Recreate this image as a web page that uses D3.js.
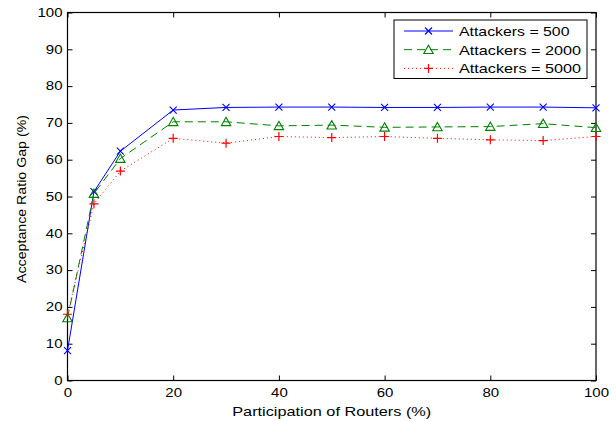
<!DOCTYPE html>
<html><head><meta charset="utf-8">
<script src="https://cdn.jsdelivr.net/npm/d3@7"></script>
<style>body{margin:0;background:#fff}svg{display:block}text{font-family:"Liberation Sans",Arial,sans-serif}</style>
</head><body><svg id="c" width="616" height="421"></svg>
<script>
const xValues = [0, 5, 10, 20, 30, 40, 50, 60, 70, 80, 90, 100];
const attackers500 = [8.1, 51.3, 62.3, 73.5, 74.2, 74.3, 74.3, 74.2, 74.2, 74.3, 74.3, 74.1];
const attackers2000 = [17.0, 50.8, 60.3, 70.3, 70.3, 69.2, 69.4, 68.8, 68.9, 69.0, 69.8, 68.7];
const attackers5000 = [18.0, 48.0, 56.9, 65.8, 64.5, 66.3, 66.0, 66.3, 65.8, 65.4, 65.2, 66.3];
const xTicks = [0, 20, 40, 60, 80, 100];
const yTicks = [0, 10, 20, 30, 40, 50, 60, 70, 80, 90, 100];
const seriesNames = ["Attackers = 500", "Attackers = 2000", "Attackers = 5000"];

const svg = d3.select("#c");
const L = 67.5, R = 596, T = 12.5, B = 380.5;
const x = d3.scaleLinear().domain([0, 100]).range([L, R]);
const y = d3.scaleLinear().domain([0, 100]).range([B, T]);

function stretch(sel, factor) {
  sel.each(function () {
    const w = this.getComputedTextLength();
    d3.select(this).attr("textLength", w * factor).attr("lengthAdjust", "spacingAndGlyphs");
  });
}

const series = [
  {name: seriesNames[0], values: attackers500, color: "#0000ff", dash: null, marker: "x"},
  {name: seriesNames[1], values: attackers2000, color: "#008000", dash: "8,5", marker: "tri"},
  {name: seriesNames[2], values: attackers5000, color: "#ff0000", dash: "1,3", marker: "plus"}
];

// axes (ticks inward, mirrored)
const tl = 5;
const gx = svg.append("g").attr("transform", `translate(0,${B})`)
  .call(d3.axisBottom(x).tickValues(xTicks).tickSizeInner(-tl).tickSizeOuter(0).tickPadding(8))
  .call(g => g.select(".domain").remove());
svg.append("g").attr("transform", `translate(0,${T})`)
  .call(d3.axisTop(x).tickValues(xTicks).tickSizeInner(-tl).tickSizeOuter(0).tickFormat(""))
  .call(g => g.select(".domain").remove());
const gy = svg.append("g").attr("transform", `translate(${L},0)`)
  .call(d3.axisLeft(y).tickValues(yTicks).tickSizeInner(-tl).tickSizeOuter(0).tickPadding(5))
  .call(g => g.select(".domain").remove());
svg.append("g").attr("transform", `translate(${R},0)`)
  .call(d3.axisRight(y).tickValues(yTicks).tickSizeInner(-tl).tickSizeOuter(0).tickFormat(""))
  .call(g => g.select(".domain").remove());
svg.selectAll(".tick text").attr("font-size", 12).attr("fill", "#000")
  .attr("font-family", "Liberation Sans, Arial, sans-serif");
svg.selectAll(".tick line").attr("stroke", "#000");
stretch(svg.selectAll(".tick text"), 1.25);

svg.append("rect").attr("x", L).attr("y", T).attr("width", R - L).attr("height", B - T)
  .attr("fill", "none").attr("stroke", "#000").attr("stroke-width", 1.2);

function drawMarker(g, type, cx, cy, color) {
  if (type === "x") {
    const s = 3.5;
    g.append("path").attr("d", `M${cx-s},${cy-s}L${cx+s},${cy+s}M${cx-s},${cy+s}L${cx+s},${cy-s}`)
      .attr("stroke", color).attr("stroke-width", 1.1).attr("fill", "none");
  } else if (type === "tri") {
    const s = 4.5;
    g.append("path").attr("d", `M${cx},${cy-s}L${cx+s*1.05},${cy+s*0.85}L${cx-s*1.05},${cy+s*0.85}Z`)
      .attr("stroke", color).attr("stroke-width", 1.1).attr("fill", "none");
  } else {
    const s = 4.5;
    g.append("path").attr("d", `M${cx-s},${cy}L${cx+s},${cy}M${cx},${cy-s}L${cx},${cy+s}`)
      .attr("stroke", color).attr("stroke-width", 1.2).attr("fill", "none");
  }
}

const line = d3.line().x((d, i) => x(xValues[i])).y(d => y(d));
series.forEach(s => {
  const g = svg.append("g");
  g.append("path").attr("d", line(s.values)).attr("fill", "none").attr("stroke", s.color)
    .attr("stroke-width", 1).attr("stroke-dasharray", s.dash);
  s.values.forEach((v, i) => drawMarker(g, s.marker, x(xValues[i]), y(v), s.color));
});

// legend
const lg = svg.append("g");
lg.append("rect").attr("x", 394).attr("y", 20).attr("width", 193).attr("height", 58.5)
  .attr("fill", "#fff").attr("stroke", "#000").attr("stroke-width", 1);
const legendWidths = [110.5, 122, 122];
series.forEach((s, i) => {
  const ly = 31 + i * 18.7;
  lg.append("line").attr("x1", 404).attr("x2", 453).attr("y1", ly).attr("y2", ly)
    .attr("stroke", s.color).attr("stroke-width", 1).attr("stroke-dasharray", s.dash);
  drawMarker(lg, s.marker, 428.5, ly, s.color);
  lg.append("text").attr("x", 459).attr("y", ly + 5).attr("font-size", 13.5)
    .attr("textLength", legendWidths[i]).attr("lengthAdjust", "spacingAndGlyphs").text(s.name);
});

// axis labels
svg.append("text").attr("x", (L + R) / 2).attr("y", 415.5).attr("text-anchor", "middle")
  .attr("font-size", 13.5).attr("textLength", 199).attr("lengthAdjust", "spacingAndGlyphs")
  .text("Participation of Routers (%)");
svg.append("text").attr("transform", `translate(25.5,199) rotate(-90)`)
  .attr("text-anchor", "middle").attr("font-size", 13.5).attr("textLength", 168)
  .attr("lengthAdjust", "spacingAndGlyphs").text("Acceptance Ratio Gap (%)");
</script></body></html>
